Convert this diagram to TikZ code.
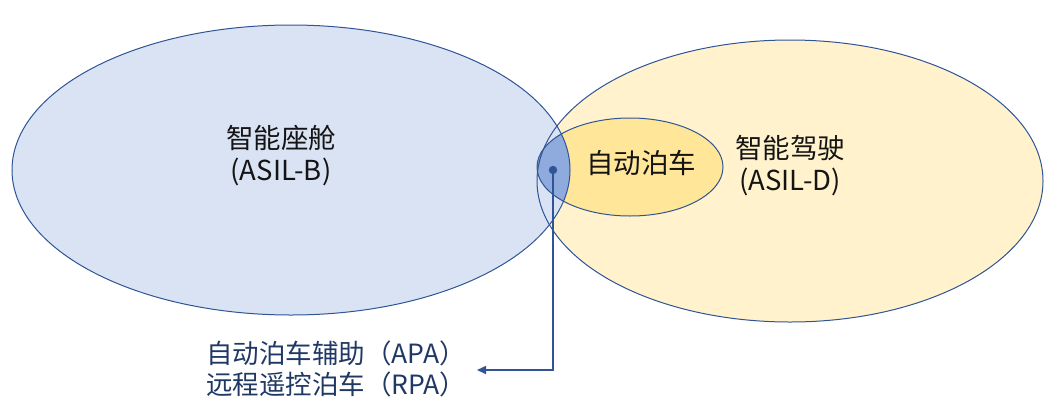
\documentclass[tikz,border=0pt]{standalone}
\usepackage{fontspec}
\setmainfont{Noto Sans CJK SC}
\usetikzlibrary{shapes.geometric,arrows.meta}
\definecolor{lfill}{HTML}{DAE3F3}
\definecolor{rfill}{HTML}{FFF2CC}
\definecolor{ifill}{HTML}{FFE699}
\definecolor{xfill}{HTML}{8FAADC}
\definecolor{edge}{HTML}{2F5597}
\definecolor{txt}{HTML}{141414}
\definecolor{ltxt}{HTML}{203864}
\tikzset{
  ell/.style={ellipse, draw=edge, line width=1pt, inner sep=0pt},
  lbl/.style={font=\fontsize{27.5}{32}\selectfont, text=txt, align=center, inner sep=0pt},
}
\begin{document}
\begin{tikzpicture}[x=1pt,y=-1pt]
\useasboundingbox (0,0) rectangle (1055,405);
% fills
\fill[rfill] (790,181) ellipse [x radius=253, y radius=141];
\fill[lfill] (291,170) ellipse [x radius=279, y radius=145];
\fill[ifill] (630,167) ellipse [x radius=93, y radius=49];
\begin{scope}
  \clip (291,170) ellipse [x radius=279, y radius=145];
  \fill[xfill] (630,167) ellipse [x radius=93, y radius=49];
\end{scope}
% outlines as named nodes
\node[ell, minimum width=558pt, minimum height=290pt] (cab) at (291,170) {};
\node[ell, minimum width=506pt, minimum height=282pt] (ads) at (790,181) {};
\node[ell, minimum width=186pt, minimum height=98pt] (park) at (630,167) {};
% labels
\node[lbl] (cabt) at (281,156) {智能座舱\\(ASIL-B)};
\node[lbl] (adst) at (790,166) {智能驾驶\\(ASIL-D)};
\node[lbl] (parkt) at (641,163) {自动泊车};
\node[font=\fontsize{26.5}{31}\selectfont, text=ltxt, align=left, inner sep=0pt, anchor=west] (apa) at (206,368.5) {自动泊车辅助（APA）\\远程遥控泊车（RPA）};
% dot and arrow
\fill[edge] (553,170) circle (4.2pt);
\coordinate (dot) at (553,170);
\coordinate (tip) at (477,370);
\draw[edge, line width=1.6pt, -{Triangle[length=9pt,width=8pt]}] (dot) |- (tip);
\end{tikzpicture}
\end{document}
